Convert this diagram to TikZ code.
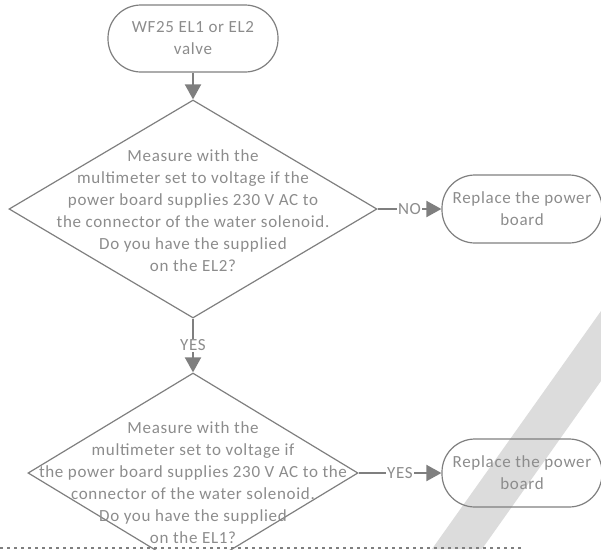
\documentclass[tikz,border=0pt]{standalone}
\usepackage{fontspec}
\setmainfont{Carlito}[LetterSpace=4]
\usetikzlibrary{shapes.geometric,arrows.meta}
\definecolor{linegray}{HTML}{7F7F7F}
\definecolor{textgray}{HTML}{8C8C8C}
\definecolor{stripegray}{HTML}{DCDCDC}

\begin{document}
\begin{tikzpicture}[x=1pt, y=-1pt, >={Triangle[length=15pt,width=16pt]},
  every node/.style={font=\fontsize{17}{22}\selectfont, text=textgray},
  term/.style={draw=linegray, line width=1.2pt, rounded corners=33pt, minimum width=170pt, minimum height=67pt, align=center},
  dia/.style={draw=linegray, line width=1.2pt, diamond, inner sep=0pt},
  flow/.style={draw=linegray, line width=2pt},
  lbl/.style={fill=white, inner sep=1pt}]
  \useasboundingbox (0,0) rectangle (601,549);
  % background stripe and page break
  \fill[stripegray] (601,311) -- (601,381) -- (482,549) -- (432,549) -- cycle;
  \draw[linegray, line width=1.5pt, dash pattern=on 3pt off 4pt] (0,548) -- (523,548);

  \node[term] (S) at (193,38.5) {WF25 EL1 or EL2\\valve};

  \node[dia, minimum width=368pt, minimum height=218pt] (Q1) at (193,209) {};
  \node[align=center] (Q1t) at (193,210.5) {Measure with the\\multimeter set to voltage if the\\power board supplies 230 V AC to\\the connector of the water solenoid.\\Do you have the supplied\\on the EL2?};
  \node[term, minimum width=160pt, minimum height=68pt] (R1) at (522,209) {Replace the power\\board};

  \node[dia, minimum width=330pt, minimum height=200pt] (Q2) at (193,473) {};
  \node[align=center] (Q2t) at (193,482.5) {Measure with the\\multimeter set to voltage if\\the power board supplies 230 V AC to the\\connector of the water solenoid.\\Do you have the supplied\\on the EL1?};
  \node[term, minimum width=160pt, minimum height=68pt] (R2) at (522,473) {Replace the power\\board};

  \draw[flow,->] (S) -- (Q1);
  \draw[flow,->] (Q1) -- (R1) node[midway, lbl] {NO};
  \draw[flow,->] (Q1) -- (Q2) node[midway, lbl] {YES};
  \draw[flow,->] (Q2) -- (R2) node[midway, lbl] {YES};
\end{tikzpicture}
\end{document}
